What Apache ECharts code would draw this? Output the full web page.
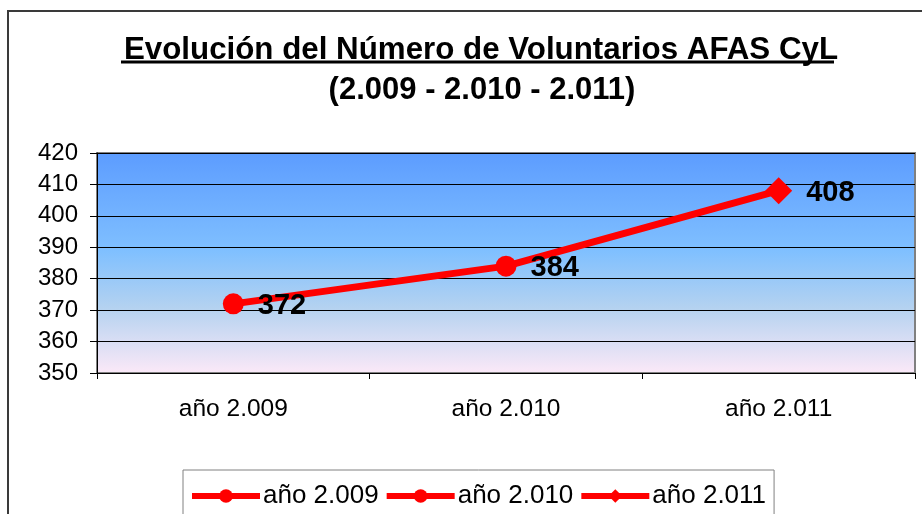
<!DOCTYPE html>
<html>
<head>
<meta charset="utf-8">
<script src="https://cdn.jsdelivr.net/npm/echarts@6/dist/echarts.min.js"></script>
<style>
  html, body { margin: 0; padding: 0; background: #fff; }
  #chart { width: 922px; height: 514px; }
</style>
</head>
<body>
<div id="chart"></div>
<script>
const chart = echarts.init(document.getElementById('chart'));

const titleLine1 = 'Evolución del Número de Voluntarios AFAS CyL';
const titleLine2 = '(2.009 - 2.010 - 2.011)';
const years = ['año 2.009', 'año 2.010', 'año 2.011'];
const volunteers = [372, 384, 408];
const yTicks = [350, 360, 370, 380, 390, 400, 410, 420];

const font = 'Arial, "Liberation Sans", sans-serif';
const red = '#ff0000';

function markerOf(i) {
    return i === years.length - 1 ? 'diamond' : 'circle';
}

// una serie vacia por año, solo para la leyenda
const legendSeries = years.map(function (name, i) {
    return {
        name: name,
        type: 'line',
        data: [],
        symbol: markerOf(i),
        itemStyle: { color: red },
        lineStyle: { color: red, width: 6 }
    };
});

const option = {
    animation: false,
    backgroundColor: '#fff',
    textStyle: { fontFamily: font },
    title: [
        {
            text: titleLine1,
            left: 476, top: 30, textAlign: 'center',
            textStyle: { fontFamily: font, fontSize: 31.3, fontWeight: 'bold', color: '#000' }
        },
        {
            text: titleLine2,
            left: 477, top: 70, textAlign: 'center',
            textStyle: { fontFamily: font, fontSize: 31, fontWeight: 'bold', color: '#000' }
        }
    ],
    graphic: [
        {
            type: 'rect', silent: true, z: -1,
            shape: { x: 8, y: 11, width: 1000, height: 1000 },
            style: { fill: 'none', stroke: '#3a3a3a', lineWidth: 2 }
        },
        {
            type: 'line', silent: true,
            shape: { x1: 121, y1: 62, x2: 834, y2: 62 },
            style: { stroke: '#000', lineWidth: 3 }
        }
    ],
    legend: {
        left: 183, top: 470,
        data: years,
        itemWidth: 68, itemHeight: 17, itemGap: 5,
        padding: [13, 8, 40, 6],
        borderColor: '#808080', borderWidth: 1,
        lineStyle: { width: 6 },
        textStyle: { fontFamily: font, fontSize: 26, color: '#000', padding: [0, 0, 0, -2] },
        selectedMode: false
    },
    grid: {
        left: 97, right: 7, top: 153, bottom: 141,
        show: true,
        borderColor: '#808080', borderWidth: 2,
        backgroundColor: new echarts.graphic.LinearGradient(0, 0, 0, 1, [
            { offset: 0, color: '#5c9cff' },
            { offset: 0.45, color: '#80c0ff' },
            { offset: 0.7, color: '#b4d2f0' },
            { offset: 1, color: '#fce9f8' }
        ])
    },
    xAxis: {
        type: 'category',
        data: years,
        boundaryGap: true,
        axisLine: { lineStyle: { color: '#000', width: 1 } },
        axisTick: { show: true, length: 6, lineStyle: { color: '#000' } },
        axisLabel: { color: '#000', fontSize: 24.5, fontFamily: font, margin: 24 }
    },
    yAxis: {
        type: 'value',
        min: yTicks[0],
        max: yTicks[yTicks.length - 1],
        interval: yTicks[1] - yTicks[0],
        axisLine: { show: true, lineStyle: { color: '#000', width: 1 } },
        axisTick: { show: true, length: 7, lineStyle: { color: '#000' } },
        axisLabel: { color: '#000', fontSize: 24, fontFamily: font, margin: 19 },
        splitLine: { lineStyle: { color: '#000', width: 1 } }
    },
    series: [
        {
            name: 'voluntarios',
            type: 'line',
            z: 3,
            data: volunteers.map(function (v, i) {
                return {
                    value: v,
                    symbol: markerOf(i),
                    symbolSize: markerOf(i) === 'diamond' ? 27 : 21
                };
            }),
            itemStyle: { color: red },
            lineStyle: { color: red, width: 7 },
            label: {
                show: true,
                position: 'right',
                distance: 14,
                offset: [0, 2],
                color: '#000',
                fontFamily: font,
                fontSize: 29,
                fontWeight: 'bold'
            }
        }
    ].concat(legendSeries)
};

chart.setOption(option);
</script>
</body>
</html>
